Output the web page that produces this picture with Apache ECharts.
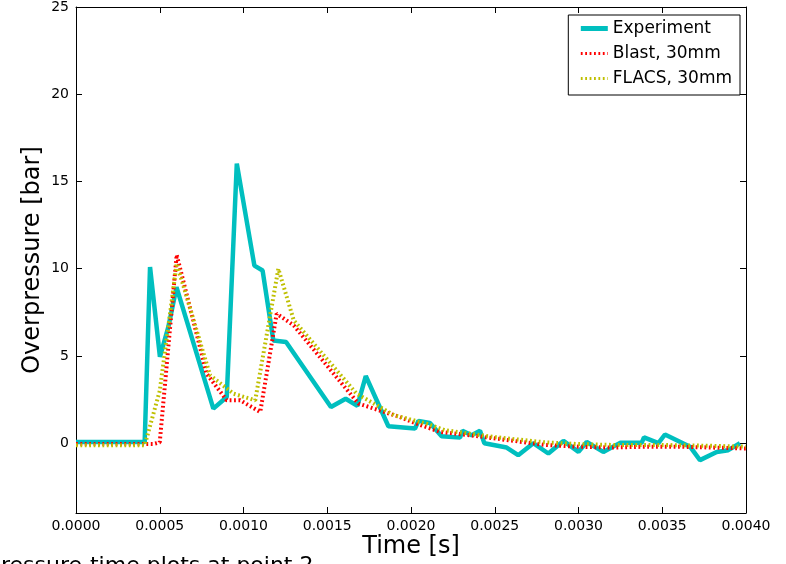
<!DOCTYPE html>
<html>
<head>
<meta charset="utf-8">
<script src="https://cdn.jsdelivr.net/npm/echarts@6/dist/echarts.min.js"></script>
<style>
html,body{margin:0;padding:0;background:#fff;}
#c{width:786px;height:564px;}
</style>
</head>
<body>
<div id="c"></div>
<script>
// ---- data ----
const expT = [0, 0.00041, 0.000442, 0.000501, 0.000551, 0.0006, 0.00082, 0.0009, 0.00096, 0.001065, 0.001114, 0.001178, 0.001254, 0.001522, 0.00161, 0.00168, 0.00173, 0.001865, 0.002024, 0.002044, 0.002113, 0.002183, 0.002293, 0.002307, 0.002362, 0.002412, 0.002438, 0.002571, 0.00264, 0.00273, 0.00282, 0.00291, 0.003, 0.003049, 0.003148, 0.003248, 0.003377, 0.003391, 0.003477, 0.003516, 0.003666, 0.003725, 0.003825, 0.003894, 0.003964];
const expV = [0.07, 0.07, 10.1, 4.95, 6.65, 8.94, 1.98, 2.65, 16.03, 10.18, 9.9, 5.89, 5.8, 2.08, 2.55, 2.14, 3.85, 0.97, 0.84, 1.28, 1.16, 0.4, 0.32, 0.71, 0.46, 0.71, 0.0, -0.25, -0.69, 0.0, -0.59, 0.13, -0.5, 0.07, -0.5, 0.02, 0.02, 0.33, 0.0, 0.5, -0.2, -0.97, -0.5, -0.4, 0.0];

const blastT = [0, 0.00046, 0.0005, 0.000601, 0.00078, 0.0009, 0.00098, 0.0011, 0.001198, 0.0013, 0.001686, 0.001934, 0.002034, 0.002173, 0.0024, 0.0026, 0.0028, 0.003, 0.0032, 0.0034, 0.0036, 0.0038, 0.004];
const blastV = [-0.05, -0.05, 0.05, 10.8, 3.98, 2.46, 2.46, 1.79, 7.42, 6.75, 2.27, 1.5, 1.12, 0.65, 0.4, 0.15, -0.1, -0.2, -0.25, -0.2, -0.2, -0.25, -0.3];

const flacsT = [0, 0.00041, 0.0005, 0.000601, 0.0008, 0.00094, 0.00107, 0.001208, 0.0013, 0.001675, 0.0019, 0.0021, 0.0022, 0.0025, 0.0028, 0.003, 0.0032, 0.0035, 0.0038, 0.004];
const flacsV = [-0.12, -0.12, 3.0, 10.3, 3.9, 2.84, 2.46, 10.0, 7.04, 2.84, 1.6, 1.1, 0.75, 0.35, 0.05, -0.05, -0.1, -0.1, -0.15, -0.2];

const seriesNames = ['Experiment', 'Blast, 30mm', 'FLACS, 30mm'];
const yTicks = [0, 5, 10, 15, 20, 25];
const xLabel = 'Time [s]';
const yLabel = 'Overpressure [bar]';
const caption = 'pressure-time plots at point 2';

const zip = (t, v) => t.map((x, i) => [x, v[i]]);
const FONT = 'DejaVu Sans';
const DOT = [1.8, 2.6];

const chart = echarts.init(document.getElementById('c'), null, {renderer: 'canvas'});

const baseX = {
  type: 'value', min: 0, max: 0.004, interval: 0.0005,
  axisLine: {show: true, onZero: false, lineStyle: {color: '#000', width: 1}},
  axisTick: {show: true, inside: true, length: 6, lineStyle: {color: '#000', width: 1}},
  splitLine: {show: false}
};
const baseY = {
  type: 'value', min: -4, max: 25,
  axisLine: {show: true, onZero: false, lineStyle: {color: '#000', width: 1}},
  axisTick: {show: true, inside: true, length: 6, customValues: yTicks, lineStyle: {color: '#000', width: 1}},
  splitLine: {show: false}
};

chart.setOption({
  backgroundColor: '#fff',
  animation: false,
  grid: {left: 76, right: 40, top: 6, bottom: 50, containLabel: false},
  legend: {
    data: [
      {name: seriesNames[0], lineStyle: {width: 5, color: '#00BFBF'}},
      {name: seriesNames[1], lineStyle: {width: 3, color: '#FF0000', type: DOT}},
      {name: seriesNames[2], lineStyle: {width: 3, color: '#BFBF00', type: DOT}}
    ],
    orient: 'vertical',
    right: 46, top: 15,
    padding: [5, 8, 8, 10],
    itemGap: 8,
    itemWidth: 27, itemHeight: 17,
    itemStyle: {color: 'rgba(0,0,0,0)', opacity: 0, borderWidth: 0},
    backgroundColor: '#fff',
    borderColor: '#000', borderWidth: 1, borderRadius: 0,
    textStyle: {fontFamily: FONT, fontSize: 17, color: '#000'}
  },
  xAxis: [
    Object.assign({}, baseX, {
      position: 'bottom',
      name: xLabel, nameLocation: 'middle', nameGap: 22, nameMoveOverlap: false,
      nameTextStyle: {fontFamily: FONT, fontSize: 24, color: '#000'},
      axisLabel: {show: true, margin: 6, fontFamily: FONT, fontSize: 14, color: '#000',
        formatter: v => v.toFixed(4)}
    }),
    Object.assign({}, baseX, {position: 'top', axisLabel: {show: false}})
  ],
  yAxis: [
    Object.assign({}, baseY, {
      position: 'left',
      name: yLabel, nameLocation: 'middle', nameGap: 31, nameRotate: 90, nameMoveOverlap: false,
      nameTextStyle: {fontFamily: FONT, fontSize: 24, color: '#000'},
      axisLabel: {show: true, margin: 7, fontFamily: FONT, fontSize: 14, color: '#000',
        customValues: yTicks}
    }),
    Object.assign({}, baseY, {position: 'right', axisLabel: {show: false}})
  ],
  series: [
    {
      name: seriesNames[0], type: 'line', data: zip(expT, expV),
      symbol: 'none', showSymbol: false,
      lineStyle: {color: '#00BFBF', width: 4.5},
      itemStyle: {color: '#00BFBF'}, z: 2
    },
    {
      name: seriesNames[1], type: 'line', data: zip(blastT, blastV),
      symbol: 'none', showSymbol: false,
      lineStyle: {color: '#FF0000', width: 4, type: DOT},
      itemStyle: {color: '#FF0000'}, z: 3
    },
    {
      name: seriesNames[2], type: 'line', data: zip(flacsT, flacsV),
      symbol: 'none', showSymbol: false,
      lineStyle: {color: '#BFBF00', width: 4, type: DOT},
      itemStyle: {color: '#BFBF00'}, z: 4
    }
  ],
  graphic: [{
    type: 'text', left: -13, top: 555, silent: true,
    style: {text: caption, fontFamily: FONT, fontSize: 22, fill: '#000'}
  }]
});
</script>
</body>
</html>
